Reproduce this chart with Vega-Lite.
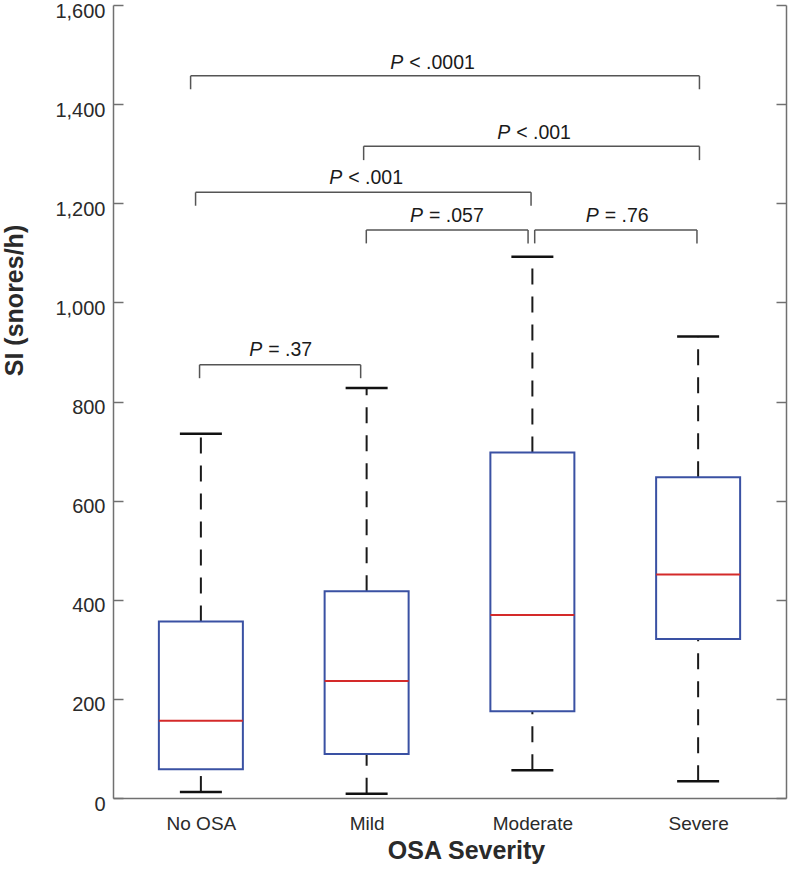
{
  "$schema": "https://vega.github.io/schema/vega-lite/v6.json",
  "width": 673,
  "height": 793,
  "autosize": {"type": "none"},
  "padding": {"left": 113, "top": 5, "right": 2, "bottom": 81},
  "background": "white",
  "config": {
    "view": {"stroke": null},
    "font": "Liberation Sans",
    "axis": {"grid": false}
  },
  "datasets": {
    "boxes": [
      {"group": "No OSA", "pos": 1, "min": 12, "q1": 58, "median": 156, "q3": 356, "max": 735},
      {"group": "Mild", "pos": 2, "min": 8.5, "q1": 89, "median": 236, "q3": 417, "max": 827},
      {"group": "Moderate", "pos": 3, "min": 56, "q1": 175, "median": 369, "q3": 697, "max": 1092},
      {"group": "Severe", "pos": 4, "min": 34, "q1": 321, "median": 451, "q3": 647, "max": 931}
    ],
    "brackets": [
      {"pair": "No OSA-Mild", "left": 0.992, "right": 1.964, "top": 874, "bottom": 847},
      {"pair": "No OSA-Severe", "left": 0.938, "right": 4.008, "top": 1457, "bottom": 1430},
      {"pair": "Mild-Severe", "left": 1.982, "right": 4.008, "top": 1315, "bottom": 1287},
      {"pair": "No OSA-Moderate", "left": 0.968, "right": 2.992, "top": 1222, "bottom": 1195},
      {"pair": "Mild-Moderate", "left": 1.998, "right": 2.974, "top": 1146, "bottom": 1119},
      {"pair": "Moderate-Severe", "left": 3.014, "right": 3.993, "top": 1146, "bottom": 1119}
    ],
    "labels": [
      {"pair": "No OSA-Mild", "anchor": 1.37, "y": 891, "rest": "= .37"},
      {"pair": "No OSA-Severe", "anchor": 2.221, "y": 1471, "rest": "< .0001"},
      {"pair": "Mild-Severe", "anchor": 2.866, "y": 1330, "rest": "< .001"},
      {"pair": "No OSA-Moderate", "anchor": 1.853, "y": 1238, "rest": "< .001"},
      {"pair": "Mild-Moderate", "anchor": 2.34, "y": 1163, "rest": "= .057"},
      {"pair": "Moderate-Severe", "anchor": 3.4, "y": 1163, "rest": "= .76"}
    ]
  },
  "resolve": {"axis": {"y": "independent"}},
  "layer": [
    {
      "data": {"name": "boxes"},
      "mark": {"type": "rule", "stroke": "#1a1a1a", "strokeWidth": 2, "strokeDash": [16, 12]},
      "encoding": {
        "x": {
          "field": "pos", "type": "quantitative",
          "scale": {"domain": [0.5, 4.5], "nice": false, "zero": false},
          "axis": {
            "values": [1, 2, 3, 4],
            "labelExpr": "['', 'No OSA', 'Mild', 'Moderate', 'Severe'][datum.value]",
            "ticks": false,
            "domainColor": "#707070",
            "domainWidth": 1.5,
            "labelFont": "Liberation Sans",
            "labelFontSize": 19,
            "labelColor": "#2a2a2a",
            "labelPadding": 16,
            "title": "OSA Severity",
            "titleFont": "Liberation Sans",
            "titleFontSize": 25,
            "titleFontWeight": "bold",
            "titleColor": "#2a2a2a",
            "titleAlign": "center",
            "titleX": 353,
            "titlePadding": 5
          }
        },
        "y": {
          "field": "q3", "type": "quantitative",
          "scale": {"domain": [0, 1600], "nice": false},
          "axis": {
            "orient": "left",
            "values": [0, 200, 400, 600, 800, 1000, 1200, 1400, 1600],
            "format": ",d",
            "tickSize": -10,
            "tickWidth": 1.5,
            "tickColor": "#707070",
            "domainColor": "#707070",
            "domainWidth": 1.5,
            "labelFont": "Liberation Sans",
            "labelFontSize": 20,
            "labelColor": "#2a2a2a",
            "labelPadding": 18,
            "labelOffset": 6,
            "labelBound": false,
            "labelFlush": false,
            "title": "SI (snores/h)",
            "titleFont": "Liberation Sans",
            "titleFontSize": 25,
            "titleFontWeight": "bold",
            "titleColor": "#2a2a2a",
            "titleAngle": 270,
            "titleAlign": "center",
            "titleBaseline": "middle",
            "titleX": -99,
            "titleY": 295
          }
        },
        "y2": {"field": "max"}
      }
    },
    {
      "data": {"name": "boxes"},
      "mark": {"type": "rule", "stroke": "#1a1a1a", "strokeWidth": 2, "strokeDash": [16, 12]},
      "encoding": {
        "x": {"field": "pos", "type": "quantitative"},
        "y": {
          "field": "min", "type": "quantitative",
          "axis": {
            "orient": "right",
            "values": [0, 200, 400, 600, 800, 1000, 1200, 1400, 1600],
            "tickSize": -10,
            "tickWidth": 1.5,
            "tickColor": "#707070",
            "domainColor": "#707070",
            "domainWidth": 1.5,
            "labels": false,
            "title": null
          }
        },
        "y2": {"field": "q1"}
      }
    },
    {
      "data": {"name": "boxes"},
      "mark": {"type": "bar", "width": 84, "fill": "white", "stroke": "#3a51a3", "strokeWidth": 2},
      "encoding": {
        "x": {"field": "pos", "type": "quantitative"},
        "y": {"field": "q1", "type": "quantitative", "axis": null},
        "y2": {"field": "q3"}
      }
    },
    {
      "data": {"name": "boxes"},
      "mark": {"type": "tick", "orient": "horizontal", "size": 84, "thickness": 2, "color": "#d42a2a", "opacity": 1},
      "encoding": {
        "x": {"field": "pos", "type": "quantitative"},
        "y": {"field": "median", "type": "quantitative", "axis": null}
      }
    },
    {
      "data": {"name": "boxes"},
      "mark": {"type": "tick", "orient": "horizontal", "size": 42, "thickness": 2.5, "color": "#111111", "opacity": 1},
      "encoding": {
        "x": {"field": "pos", "type": "quantitative"},
        "y": {"field": "max", "type": "quantitative", "axis": null}
      }
    },
    {
      "data": {"name": "boxes"},
      "mark": {"type": "tick", "orient": "horizontal", "size": 42, "thickness": 2.5, "color": "#111111", "opacity": 1},
      "encoding": {
        "x": {"field": "pos", "type": "quantitative"},
        "y": {"field": "min", "type": "quantitative", "axis": null}
      }
    },
    {
      "data": {"name": "brackets"},
      "mark": {"type": "rule", "stroke": "#555555", "strokeWidth": 1.5},
      "encoding": {
        "x": {"field": "left", "type": "quantitative"},
        "x2": {"field": "right"},
        "y": {"field": "top", "type": "quantitative", "axis": null}
      }
    },
    {
      "data": {"name": "brackets"},
      "mark": {"type": "rule", "stroke": "#555555", "strokeWidth": 1.5},
      "encoding": {
        "x": {"field": "left", "type": "quantitative"},
        "y": {"field": "top", "type": "quantitative", "axis": null},
        "y2": {"field": "bottom"}
      }
    },
    {
      "data": {"name": "brackets"},
      "mark": {"type": "rule", "stroke": "#555555", "strokeWidth": 1.5},
      "encoding": {
        "x": {"field": "right", "type": "quantitative"},
        "y": {"field": "top", "type": "quantitative", "axis": null},
        "y2": {"field": "bottom"}
      }
    },
    {
      "data": {"name": "labels"},
      "mark": {"type": "text", "text": "P", "font": "Liberation Sans", "fontStyle": "italic", "fontSize": 19.5, "color": "#1a1a1a", "align": "right", "baseline": "alphabetic"},
      "encoding": {
        "x": {"field": "anchor", "type": "quantitative"},
        "y": {"field": "y", "type": "quantitative", "axis": null}
      }
    },
    {
      "data": {"name": "labels"},
      "mark": {"type": "text", "font": "Liberation Sans", "fontSize": 19.5, "color": "#1a1a1a", "align": "left", "baseline": "alphabetic", "dx": 6},
      "encoding": {
        "x": {"field": "anchor", "type": "quantitative"},
        "y": {"field": "y", "type": "quantitative", "axis": null},
        "text": {"field": "rest"}
      }
    }
  ]
}
